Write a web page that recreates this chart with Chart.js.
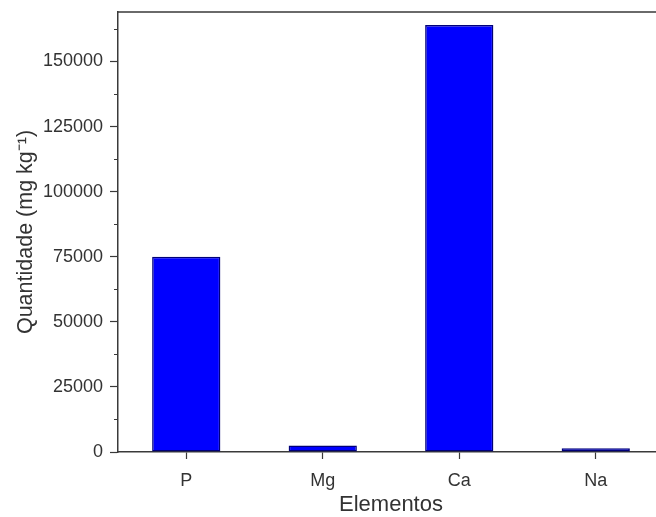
<!DOCTYPE html>
<html>
<head>
<meta charset="utf-8">
<script src="https://cdn.jsdelivr.net/npm/chart.js@4/dist/chart.umd.min.js"></script>
<style>
html,body{margin:0;padding:0;overflow:hidden;background:#fff;width:656px;height:517px;}
canvas{display:block;}
</style>
</head>
<body>
<canvas id="c" width="666" height="517"></canvas>
<script>
const categories = ["P", "Mg", "Ca", "Na"];
const quantidade = [75000, 2500, 164000, 1400];
const yMin = 0;
const yMax = 169000;
const majorTicks = [0, 25000, 50000, 75000, 100000, 125000, 150000];
const minorTicks = [12500, 37500, 62500, 87500, 112500, 137500, 162500];
const xTitle = "Elementos";
const yTitle = "Quantidade (mg kg\u207B\u00B9)";

const FONT = "'Liberation Sans', Arial, Helvetica, sans-serif";
const AXIS = "#3a3a3a";
const TEXT = "#333333";

const frame = {
  id: 'frame',
  afterDraw(chart) {
    const {ctx, chartArea: a} = chart;
    const y = chart.scales.y;
    ctx.save();
    ctx.strokeStyle = AXIS;
    ctx.lineWidth = 1.5;
    ctx.beginPath();
    ctx.moveTo(a.left, a.top);
    ctx.lineTo(a.right, a.top);
    ctx.lineTo(a.right, a.bottom);
    ctx.stroke();
    ctx.lineWidth = 1.2;
    ctx.beginPath();
    minorTicks.forEach(v => {
      const py = Math.round(y.getPixelForValue(v)) + 0.5;
      ctx.moveTo(a.left - 4, py);
      ctx.lineTo(a.left, py);
    });
    ctx.stroke();
    ctx.restore();
  }
};

new Chart(document.getElementById('c'), {
  type: 'bar',
  data: {
    labels: categories,
    datasets: [{
      data: quantidade,
      backgroundColor: '#0000FF',
      borderColor: '#00007a',
      borderWidth: 1.5,
      borderSkipped: false,
      categoryPercentage: 1,
      barPercentage: 0.5
    }]
  },
  options: {
    responsive: false,
    animation: false,
    devicePixelRatio: 1,
    layout: { padding: { left: 0, top: 12, right: 2, bottom: 0 } },
    plugins: { legend: { display: false }, tooltip: { enabled: false } },
    scales: {
      x: {
        afterFit(s) { s.height = 65; s.paddingLeft = 0; s.paddingRight = 0; },
        grid: { display: true, drawOnChartArea: false, offset: false, tickLength: 7, tickColor: AXIS, tickWidth: 1.2 },
        border: { display: true, color: AXIS, width: 1.5 },
        ticks: { color: TEXT, font: { family: FONT, size: 18 }, padding: 11, maxRotation: 0 },
        title: { display: true, text: xTitle, color: TEXT, font: { family: FONT, size: 22, lineHeight: 1 }, padding: { top: 0, bottom: 1 } }
      },
      y: {
        min: yMin,
        max: yMax,
        afterFit(s) { s.width = 118; s.paddingTop = 0; s.paddingBottom = 0; },
        afterBuildTicks(s) { s.ticks = majorTicks.map(v => ({ value: v })); },
        grid: { display: true, drawOnChartArea: false, tickLength: 8, tickWidth: 1.2, tickColor: AXIS },
        border: { display: true, color: AXIS, width: 1.5 },
        ticks: {
          autoSkip: false,
          color: TEXT,
          font: { family: FONT, size: 18 },
          padding: 7,
          callback: v => String(v)
        },
        title: { display: true, text: yTitle, color: TEXT, font: { family: FONT, size: 21.5, lineHeight: 1.2 }, padding: { top: 13, bottom: 0 } }
      }
    }
  },
  plugins: [frame]
});
</script>
</body>
</html>
